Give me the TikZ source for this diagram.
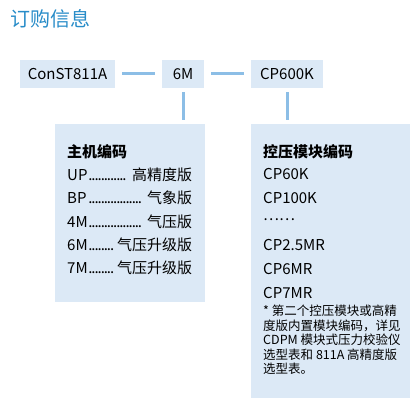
\documentclass[tikz,border=0pt]{standalone}
\usepackage{fontspec}
\setmainfont{Noto Sans CJK SC}
\usetikzlibrary{positioning}
\definecolor{titleblue}{RGB}{40,140,200}
\definecolor{boxblue}{RGB}{220,233,246}
\definecolor{lineblue}{RGB}{140,190,230}
\newcommand\leaderdots{\leaders\hbox to 3.1pt{\hss.\hss}\hfill}

\begin{document}
\begin{tikzpicture}[x=1pt, y=-1pt,
  codebox/.style={fill=boxblue, minimum height=28pt, inner sep=0pt, font=\fontsize{15}{18}\selectfont},
  panel/.style={fill=boxblue, inner sep=0pt},
  entry/.style={anchor=west, inner sep=0pt, font=\fontsize{15}{18}\selectfont},
  link/.style={lineblue, line width=3pt}]
  \useasboundingbox (0,0) rectangle (417,414);
  \node[anchor=west, inner sep=0pt, text=titleblue, font=\fontsize{20}{24}\selectfont] (title) at (10,19) {订购信息};
  % code row
  \node[codebox, minimum width=95pt] (host) at (67.5,74) {ConST811A};
  \node[codebox, minimum width=42pt] (m6) at (183,74) {6M};
  \node[codebox, minimum width=72pt] (cp) at (287,74) {CP600K};
  \draw[link, shorten <=7pt, shorten >=7pt] (host) -- (m6);
  \draw[link, shorten <=7pt, shorten >=7pt] (m6) -- (cp);
  % panels
  \node[panel, minimum width=150pt, minimum height=178pt] (hostpanel) at (130,213) {};
  \node[panel, minimum width=159pt, minimum height=274pt] (cppanel) at (330.5,261) {};
  \draw[link, shorten <=4pt, shorten >=4pt] (m6.south) -- (m6.south |- hostpanel.north);
  \draw[link, shorten <=4pt, shorten >=4pt] (cp.south) -- (cp.south |- cppanel.north);
  % host codes
  \node[entry] (hosthead) at (67,152) {\bfseries 主机编码};
  \node[entry] (up) at (67,175) {\makebox[125pt]{UP\leaderdots\ 高精度版}};
  \node[entry] (bp) at (67,198) {\makebox[125pt]{BP\leaderdots\ 气象版}};
  \node[entry] (m4) at (67,222) {\makebox[125pt]{4M\leaderdots\ 气压版}};
  \node[entry] (m6code) at (67,245) {\makebox[125pt]{6M\leaderdots\ 气压升级版}};
  \node[entry] (m7) at (67,268) {\makebox[125pt]{7M\leaderdots\ 气压升级版}};
  % module codes
  \node[entry] (cphead) at (263,152) {\bfseries 控压模块编码};
  \node[entry] (cp60) at (263,174) {CP60K};
  \node[entry] (cp100) at (263,198) {CP100K};
  \node[entry] (cpmore) at (263,220) {……};
  \node[entry] (cp25) at (263,245) {CP2.5MR};
  \node[entry] (cp6) at (263,269) {CP6MR};
  \node[entry] (cp7) at (263,293) {CP7MR};
  \node[anchor=north west, inner sep=0pt, align=left, font=\fontsize{12.5}{14.5}\selectfont] (note) at (263,305)
    {* 第二个控压模块或高精\\度版内置模块编码，详见\\CDPM 模块式压力校验仪\\选型表和 811A 高精度版\\选型表。};
\end{tikzpicture}
\end{document}
